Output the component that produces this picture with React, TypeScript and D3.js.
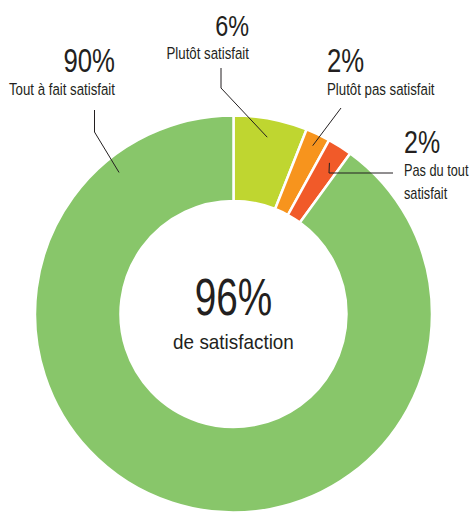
import React from 'react';
import * as d3 from 'd3';

// chart data
const labels = [['Plutôt satisfait'], ['Plutôt pas satisfait'], ['Pas du tout', 'satisfait'], ['Tout à fait satisfait']];
const values = [6, 2, 2, 90];
const colors = ['#bfd630', '#f7941d', '#f15a29', '#88c66a'];
const centerValue = '96%';
const centerLabel = 'de satisfaction';

const W = 470, H = 512;
const cx = 233.5, cy = 314;
const outerR = 198.5, innerR = 113;
const FONT = "'Liberation Sans', Arial, sans-serif";
const INK = '#231f20';
const SX = 0.78; // squeeze to mimic the condensed face

// annotation layout: text position and leader line bends (the last point is on the slice)
const notes = [
  { x: 249, y: 36, pctSize: 30, anchor: 'end', path: [[221, 68], [221, 88]], angle: null, r: 180, sx: SX },
  { x: 327, y: 72, pctSize: 33, anchor: 'start', path: [[341, 108]], angle: null, r: 186, sx: SX },
  { x: 404, y: 153, pctSize: 32, anchor: 'start', path: [[393, 173], [329, 173]], angle: null, r: 179, sx: 0.75 },
  { x: 115, y: 72, pctSize: 33, anchor: 'end', path: [[94.5, 110], [94.5, 132]], angle: -0.68, r: 182, sx: SX },
];

function Txt({ x, y, size, anchor, children, sx = SX }: any) {
  return (
    <text transform={`translate(${x},${y}) scale(${sx},1)`} fontSize={size} fill={INK} textAnchor={anchor}>
      {children}
    </text>
  );
}

export default function App() {
  const pie = d3.pie<number>().sort(null).value(d => d)(values);
  const arc = d3.arc<d3.PieArcDatum<number>>().innerRadius(innerR).outerRadius(outerR);
  const total = d3.sum(values);
  const fmt = d3.format('.0%');

  return (
    <svg width={W} height={H} style={{ position: 'absolute', left: 0, top: 0, background: '#fff' }}
      fontFamily={FONT}>
      <g transform={`translate(${cx},${cy})`}>
        {pie.map((p, i) => (
          <path key={i} d={arc(p) || ''} fill={colors[i]} stroke="#fff" strokeWidth={2.5} />
        ))}
      </g>
      {notes.map((n, i) => {
        const p = pie[i];
        const a = n.angle != null ? n.angle : (p.startAngle + p.endAngle) / 2;
        const end = [cx + n.r * Math.sin(a), cy - n.r * Math.cos(a)];
        const pts = [...n.path, end];
        return (
          <g key={'n' + i}>
            <polyline points={pts.map(q => q.join(',')).join(' ')} fill="none" stroke={INK} strokeWidth={1} />
            <Txt x={n.x} y={n.y} size={n.pctSize} anchor={n.anchor}>{fmt(values[i] / total)}</Txt>
            {labels[i].map((l, j) => (
              <Txt key={j} x={n.x} y={n.y + 23 + j * 23} size={17} anchor={n.anchor} sx={n.sx}>{l}</Txt>
            ))}
          </g>
        );
      })}
      <Txt x={cx} y={315} size={51} anchor="middle" sx={0.76}>{centerValue}</Txt>
      <Txt x={cx} y={349} size={21} anchor="middle" sx={0.9}>{centerLabel}</Txt>
    </svg>
  );
}
